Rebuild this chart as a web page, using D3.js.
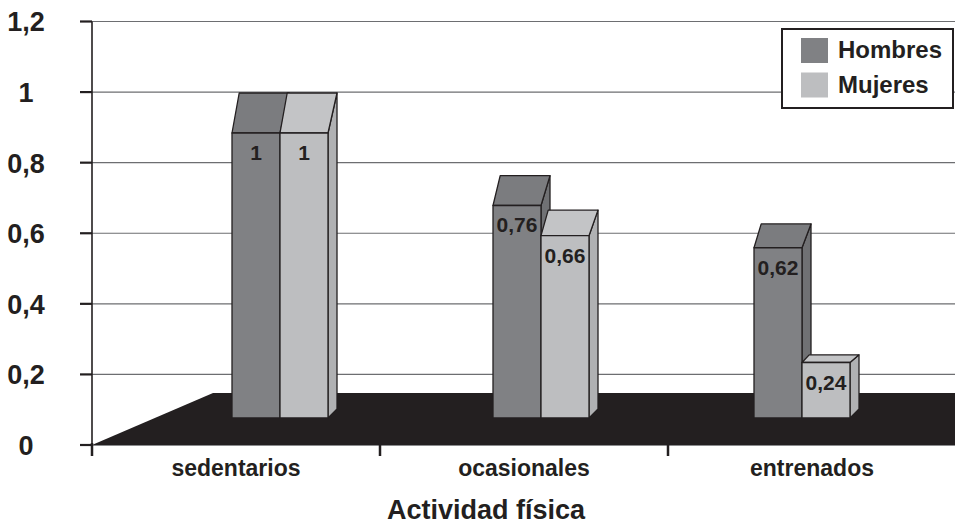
<!DOCTYPE html>
<html>
<head>
<meta charset="utf-8">
<script src="https://cdn.jsdelivr.net/npm/d3@7"></script>
<style>
  html, body { margin: 0; padding: 0; background: #fff; }
  svg { display: block; font-family: "Liberation Sans", Arial, Helvetica, sans-serif; font-weight: bold; }
</style>
</head>
<body>
<svg id="chart" width="955" height="526"></svg>
<script>
// Data
const categories = ["sedentarios", "ocasionales", "entrenados"];
const series = ["Hombres", "Mujeres"];
const hombres = [1, 0.76, 0.62];
const mujeres = [1, 0.66, 0.24];
const yTicks = [0, 0.2, 0.4, 0.6, 0.8, 1, 1.2];
const yTickLabels = ["0", "0,2", "0,4", "0,6", "0,8", "1", "1,2"];
const xTitle = "Actividad física";

const ink = "#231f20";
const colors = {
  Hombres: { front: "#808184", top: "#7b7c7f", side: "#707174" },
  Mujeres: { front: "#bdbec0", top: "#c3c4c6", side: "#b0b1b3" }
};

const svg = d3.select("#chart");

// Back-wall value axis
const y = d3.scaleLinear().domain([0, 1.2]).range([445, 21.5]);
// Category axis along the front edge of the floor
const xAxisBand = d3.scaleBand().domain(categories).range([92, 956]);
// Bars stand in the middle of the floor depth
const xBar = d3.scalePoint().domain(categories).range([280, 802]);
const xSeries = d3.scaleBand().domain(series).range([-48, 48]);
// Perspective of the bar bodies: front-face top and back edge of the top face
const yFront = d3.scaleLinear().domain([0, 1]).range([435, 133]);
const yTopBack = d3.scaleLinear().domain([0, 1]).range([437.5, 93]);
const floorFront = 445, floorBack = 393, floorBackLeft = 213;
const barBase = 418, depthX = 9, baseDepthY = 9;

// Gridlines
svg.append("g")
  .selectAll("line")
  .data(yTicks.filter(d => d > 0))
  .join("line")
  .attr("x1", 92).attr("x2", 955)
  .attr("y1", d => y(d)).attr("y2", d => y(d))
  .attr("stroke", "#6d6e71").attr("stroke-width", 1.1);

// Floor
svg.append("path")
  .attr("d", `M92,${floorFront} L${floorBackLeft},${floorBack} L955,${floorBack} L955,${floorFront} Z`)
  .attr("fill", ink);
svg.append("line")
  .attr("x1", 92).attr("x2", 955)
  .attr("y1", y(0) + 0.5).attr("y2", y(0) + 0.5)
  .attr("stroke", "#8a8b8d").attr("stroke-width", 1);

// Value axis line, ticks and labels
svg.append("line")
  .attr("x1", 92).attr("x2", 92)
  .attr("y1", y(1.2)).attr("y2", y(0))
  .attr("stroke", ink).attr("stroke-width", 1.6);
svg.append("g")
  .selectAll("line")
  .data(yTicks)
  .join("line")
  .attr("x1", 80).attr("x2", 92)
  .attr("y1", d => y(d)).attr("y2", d => y(d))
  .attr("stroke", ink).attr("stroke-width", 2.2);
svg.append("g")
  .selectAll("text")
  .data(yTicks)
  .join("text")
  .attr("x", 26)
  .attr("y", d => y(d))
  .attr("dy", "0.37em")
  .attr("text-anchor", "middle")
  .attr("font-size", 27)
  .attr("fill", ink)
  .text((d, i) => yTickLabels[i]);

// Category ticks below the floor
const catEdges = categories.map(c => xAxisBand(c));
svg.append("g")
  .selectAll("line")
  .data(catEdges)
  .join("line")
  .attr("x1", d => d).attr("x2", d => d)
  .attr("y1", floorFront - 2).attr("y2", floorFront + 11)
  .attr("stroke", ink).attr("stroke-width", 2.5);

svg.append("g")
  .selectAll("text")
  .data(categories)
  .join("text")
  .attr("x", d => xAxisBand(d) + xAxisBand.bandwidth() / 2)
  .attr("y", 476)
  .attr("text-anchor", "middle")
  .attr("font-size", 23)
  .attr("fill", ink)
  .text(d => d);

svg.append("text")
  .attr("x", 486).attr("y", 519)
  .attr("text-anchor", "middle")
  .attr("font-size", 27)
  .attr("fill", ink)
  .text(xTitle);

// Bars
const bars = [];
categories.forEach((c, i) => {
  bars.push({ cat: c, s: "Hombres", v: hombres[i] });
  bars.push({ cat: c, s: "Mujeres", v: mujeres[i] });
});

const gBars = svg.append("g");
bars.forEach(b => {
  const x0 = xBar(b.cat) + xSeries(b.s);
  const x1 = x0 + xSeries.bandwidth();
  const yt = yFront(b.v);
  const yb = yTopBack(b.v);
  const c = colors[b.s];
  const g = gBars.append("g")
    .attr("stroke", ink).attr("stroke-width", 1.3).attr("stroke-linejoin", "round");
  // side face
  g.append("path")
    .attr("d", `M${x1},${yt} L${x1 + depthX},${yb} L${x1 + depthX},${barBase - baseDepthY} L${x1},${barBase} Z`)
    .attr("fill", c.side);
  // top face
  g.append("path")
    .attr("d", `M${x0},${yt} L${x0 + depthX * 0.8},${yb} L${x1 + depthX},${yb} L${x1},${yt} Z`)
    .attr("fill", c.top);
  // front face
  g.append("rect")
    .attr("x", x0).attr("y", yt)
    .attr("width", x1 - x0).attr("height", barBase - yt)
    .attr("fill", c.front);
  // value label
  gBars.append("text")
    .attr("x", (x0 + x1) / 2)
    .attr("y", yt + 27)
    .attr("text-anchor", "middle")
    .attr("font-size", 21)
    .attr("fill", ink)
    .text(String(b.v).replace(".", ","));
});

// Legend
const legend = svg.append("g");
legend.append("rect")
  .attr("x", 782).attr("y", 29).attr("width", 171).attr("height", 79)
  .attr("fill", "#fff").attr("stroke", ink).attr("stroke-width", 2);
const legY = d3.scaleBand().domain(series).range([34, 103]);
legend.selectAll("rect.sw")
  .data(series)
  .join("rect")
  .attr("class", "sw")
  .attr("x", 801).attr("y", d => legY(d) + 4)
  .attr("width", 27).attr("height", 25)
  .attr("fill", d => colors[d].front);
legend.selectAll("text")
  .data(series)
  .join("text")
  .attr("x", 838).attr("y", d => legY(d) + 24)
  .attr("font-size", 24)
  .attr("fill", ink)
  .text(d => d);
</script>
</body>
</html>
